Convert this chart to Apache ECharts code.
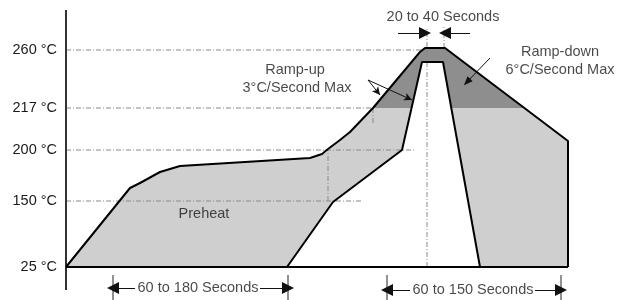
<!DOCTYPE html>
<html>
<head>
<meta charset="utf-8">
<script src="https://cdn.jsdelivr.net/npm/echarts@6/dist/echarts.min.js"></script>
<style>
  html, body { margin: 0; padding: 0; background: #fff; }
  #chart { width: 623px; height: 300px; }
</style>
</head>
<body>
<div id="chart"></div>
<script>
// schematic units: x = time offset, y = height above the 25 °C baseline
var tempLevels = [0, 66, 117, 159, 217];
var tempLabels = ['25 °C', '150 °C', '200 °C', '217 °C', '260 °C'];

// fastest (outer) and slowest (inner) profile
var outerProfile = [[0, 0], [64, 79], [74, 84], [94, 95], [114, 101], [244, 109], [256, 113], [262, 118],
                    [274, 127], [284, 135], [307, 159], [354, 215], [359, 219], [379, 219], [502, 126], [502, 0]];
var innerProfile = [[221, 0], [267, 65], [336, 117], [356, 205], [377, 205], [414, 0]];
var liquidusZone = [[307, 159], [359, 219], [379, 219], [458, 159]];
var baseLine = [[0, 0], [502, 0]];
var axisLine = [[0, -23], [0, 257]];

// dash-dot guide lines
var guides = [
    [[0, 217], [361, 217]],
    [[0, 159], [307, 159]],
    [[0, 117], [349, 117]],
    [[0, 66], [297, 66]],
    [[262, 66], [262, 117]],
    [[307, 159], [307, 142]],
    [[361, 0], [361, 240]],
    [[378, 219], [378, 240]]
];

// dimension arrows (start -> head) and end ticks
var spanArrows = [
    [[332, 234], [359, 234]], [[404, 234], [379, 234]],
    [[69, -21], [47, -21]], [[194, -21], [222, -21]],
    [[344, -23], [321, -23]], [[469, -23], [495, -23]]
];
var spanTicks = [
    [[47, -8], [47, -33]], [[222, -8], [222, -33]],
    [[321, -8], [321, -33]], [[495, -8], [495, -33]]
];
var rampUpPointers = [[[302, 187], [314, 172]], [[302, 187], [346, 167]]];
var rampDownPointer = [[[424, 209], [401, 185]]];

var notes = [
    { name: '20 to 40 Seconds', value: [377, 250] },
    { name: 'Ramp-up', value: [229, 197] },
    { name: '3°C/Second Max', value: [231, 179] },
    { name: 'Ramp-down', value: [494, 215] },
    { name: '6°C/Second Max', value: [494, 197] },
    { name: 'Preheat', value: [138, 53] },
    { name: '60 to 180 Seconds', value: [132, -21] },
    { name: '60 to 150 Seconds', value: [407, -23] }
];

var FONT = 'Liberation Sans, Arial, sans-serif';

function polygon(points, color) {
    return {
        type: 'custom',
        coordinateSystem: 'cartesian2d',
        silent: true,
        data: [[0, 0]],
        renderItem: function (params, api) {
            return {
                type: 'polygon',
                shape: { points: points.map(function (p) { return api.coord(p); }) },
                style: { fill: color }
            };
        }
    };
}

function path(points, style) {
    return {
        type: 'line',
        data: points,
        symbol: 'none',
        silent: true,
        lineStyle: style
    };
}

function arrows(pairs, symbol, size, width) {
    return {
        type: 'line',
        data: [],
        markLine: {
            silent: true,
            symbol: ['none', symbol],
            symbolSize: size,
            label: { show: false },
            lineStyle: { color: '#111', width: width, type: 'solid' },
            data: pairs.map(function (p) {
                return [{ coord: p[0] }, { coord: p[1] }];
            })
        }
    };
}

var series = [
    polygon(outerProfile, '#cfcfcf'),
    polygon(liquidusZone, '#8e8e8e'),
    polygon(innerProfile, '#ffffff')
];
guides.forEach(function (g) {
    series.push(path(g, { color: '#8a8a8a', width: 1, type: [5, 2, 1, 2] }));
});
series.push(path(axisLine, { color: '#333', width: 2 }));
series.push(path(baseLine, { color: '#000', width: 2 }));
series.push(path(outerProfile, { color: '#000', width: 2 }));
series.push(path(innerProfile, { color: '#000', width: 2 }));
spanTicks.forEach(function (t) {
    series.push(path(t, { color: '#222', width: 1 }));
});
series.push(arrows(spanArrows, 'triangle', [12, 12], 1));
series.push(arrows(rampUpPointers, 'arrow', [6, 8], 1));
series.push(arrows(rampDownPointer, 'triangle', [7, 9], 1));
series.push({
    type: 'scatter',
    data: notes,
    symbolSize: 0,
    silent: true,
    label: {
        show: true,
        position: 'inside',
        formatter: '{b}',
        fontSize: 14.5,
        fontFamily: FONT,
        color: '#1a1a1a'
    }
});

var myChart = echarts.init(document.getElementById('chart'));
myChart.setOption({
    animation: false,
    backgroundColor: '#fff',
    grid: { left: 66, top: 10, width: 520, height: 290 },
    xAxis: { type: 'value', min: 0, max: 520, show: false },
    yAxis: {
        type: 'value',
        min: -33,
        max: 257,
        axisLine: { show: false },
        axisTick: { show: false },
        splitLine: { show: false },
        axisLabel: {
            customValues: tempLevels,
            margin: 9,
            fontSize: 14.5,
            fontFamily: FONT,
            color: '#1a1a1a',
            formatter: function (v) {
                var i = tempLevels.indexOf(v);
                return i < 0 ? '' : tempLabels[i];
            }
        }
    },
    series: series
});
</script>
</body>
</html>
